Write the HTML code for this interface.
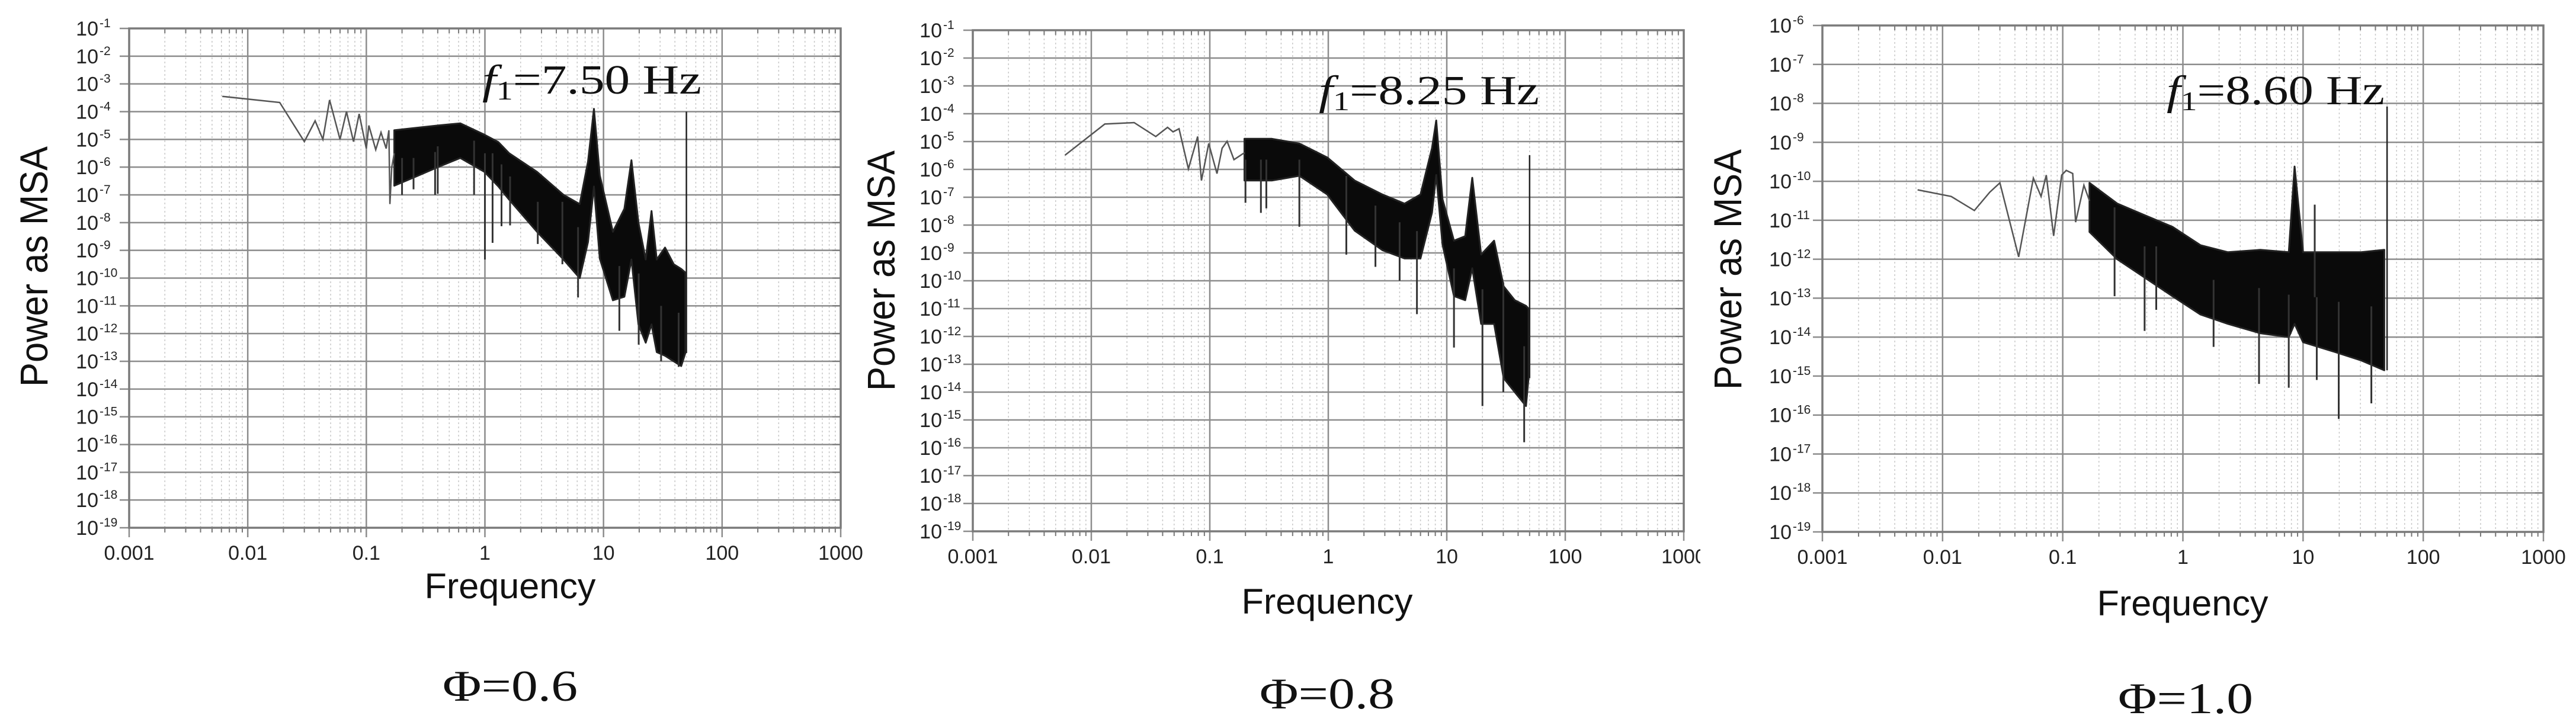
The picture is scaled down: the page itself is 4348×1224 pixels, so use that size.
<!DOCTYPE html>
<html><head><meta charset="utf-8"><style>
html,body{margin:0;padding:0;background:#fff;}
svg{display:block;}
</style></head><body>
<svg id="fig" width="4348" height="1224" viewBox="0 0 4348 1224" xmlns="http://www.w3.org/2000/svg">
<defs><clipPath id="clip2"><rect x="1420" y="0" width="1450" height="1224"/></clipPath></defs>
</svg>
<script>
// ---- Panel data (frequency in Hz, power as log10 exponent) ----
const xTickLabels = ["0.001","0.01","0.1","1","10","100","1000"];
// Panel 1 (Phi=0.6)
const p1LineF = [0.0061,0.0186,0.03,0.037,0.043,0.049,0.06,0.068,0.078,0.087,0.1,0.105,0.12,0.133,0.147,0.155,0.158,0.164,0.172];
const p1LineP = [-3.45,-3.67,-5.08,-4.33,-5.0,-3.58,-5.0,-4.0,-5.08,-4.08,-5.33,-4.5,-5.37,-4.75,-5.33,-4.67,-7.33,-6.0,-5.5];
const p1BandF = [0.172,0.265,0.4,0.62,0.99,1.3,1.6,2.75,4.6,6.3,7.4,8.3,9.3,12,15,17.2,19.7,22.7,25.4,28.1,33,39.1,45.2,49];
const p1BandHi = [-4.67,-4.58,-4.5,-4.42,-4.83,-5.1,-5.5,-6.17,-7.0,-7.33,-5.8,-3.9,-6.3,-8.33,-7.5,-5.75,-8.0,-9.33,-7.58,-9.33,-8.9,-9.5,-9.67,-9.8];
const p1BandLo = [-6.67,-6.33,-6.0,-5.67,-6.17,-6.7,-7.17,-8.33,-9.33,-10.0,-8.7,-6.7,-9.3,-10.8,-10.67,-9.33,-11.67,-12.33,-11.67,-12.67,-12.8,-13.0,-13.17,-12.7];
const p1DipF = [0.2,0.25,0.38,0.40,0.81,1.0,1.16,1.38,1.63,2.79,4.5,6.1,13.6,19.8,30.6,43];
const p1DipP = [-7.0,-6.8,-7.0,-6.96,-7.0,-9.33,-8.73,-8.13,-8.1,-8.77,-9.5,-10.7,-11.9,-12.4,-13.0,-13.2];
const p1SpikeF = [50];
const p1SpikeP = [-4.0];
// Panel 2 (Phi=0.8)
const p2LineF = [0.006,0.013,0.023,0.035,0.044,0.049,0.055,0.066,0.079,0.085,0.098,0.115,0.127,0.14,0.16,0.196];
const p2LineP = [-5.49,-4.37,-4.32,-4.82,-4.49,-4.65,-4.54,-5.98,-4.82,-6.4,-5.07,-6.15,-5.24,-4.99,-5.65,-5.4];
const p2BandF = [0.196,0.334,0.57,0.98,1.67,2.86,4.4,6.0,7.5,8.15,9.2,11.5,14.3,16.4,19.5,25.1,30.2,37.5,46.6,49];
const p2BandHi = [-4.9,-4.9,-5.07,-5.57,-6.4,-6.9,-7.23,-6.9,-5.24,-4.24,-7.07,-8.56,-8.4,-6.3,-9.06,-8.56,-10.2,-10.7,-10.9,-11.0];
const p2BandLo = [-6.4,-6.4,-6.23,-6.9,-8.2,-8.9,-9.2,-9.2,-7.56,-6.2,-8.7,-10.55,-10.7,-9.55,-11.55,-11.55,-13.5,-14.0,-14.5,-13.5];
const p2DipF = [0.2,0.27,0.3,0.57,1.42,2.5,4.0,5.6,11.5,20,30,45];
const p2DipP = [-7.2,-7.56,-7.4,-8.06,-9.06,-9.5,-10.0,-11.2,-12.4,-14.5,-14.0,-15.8];
const p2SpikeF = [50];
const p2SpikeP = [-5.49];
// Panel 3 (Phi=1.0)
const p3LineF = [0.0062,0.0118,0.0184,0.0247,0.03,0.043,0.057,0.066,0.073,0.084,0.098,0.107,0.121,0.128,0.15,0.167];
const p3LineP = [-10.22,-10.39,-10.75,-10.28,-10.04,-11.94,-9.92,-10.39,-9.84,-11.4,-9.84,-9.72,-9.8,-11.05,-10.1,-10.5];
const p3BandF = [0.167,0.284,0.48,0.82,1.4,2.37,4.4,7.6,8.5,10.0,17.9,30.5,47.4];
const p3BandHi = [-10.04,-10.57,-10.87,-11.17,-11.64,-11.82,-11.76,-11.82,-9.62,-11.82,-11.82,-11.82,-11.76];
const p3BandLo = [-11.3,-12.0,-12.47,-12.95,-13.42,-13.66,-13.9,-14.0,-13.66,-14.13,-14.37,-14.6,-14.85];
const p3DipF = [0.27,0.48,0.6,1.8,4.3,7.6,12.5,13,19.8,37];
const p3DipP = [-12.95,-13.84,-13.3,-14.25,-15.2,-15.3,-10.6,-15.1,-16.1,-15.7];
const p3SpikeF = [50];
const p3SpikeP = [-8.08];

const NS = "http://www.w3.org/2000/svg";
const svg = document.getElementById('fig');
function mk(tag, attrs, parent){ const e=document.createElementNS(NS,tag); for(const k in attrs) e.setAttribute(k,attrs[k]); (parent||svg).appendChild(e); return e; }

function panel(cfg){
  const g = mk('g', {});
  
  
  if(cfg.clip) g.setAttribute('clip-path', cfg.clip);
  const {x0,x1,y0,y1,yTop,yBot} = cfg;
  const xs = f => x0 + (Math.log10(f)+3)/6*(x1-x0);
  const ys = p => y0 + (yTop-p)/(yTop-yBot)*(y1-y0);
  const minor = mk('g', {stroke:'#c8c8c8','stroke-width':1.5,'stroke-dasharray':'3,4'}, g);
  
  
  for(let d=-3; d<3; d++) for(let m=2;m<=9;m++){ const x=xs(m*Math.pow(10,d)); mk('line',{x1:x,x2:x,y1:y0,y2:y1},minor); }
  const major = mk('g', {stroke:'#8c8c8c','stroke-width':2.5}, g);
  
  
  for(let d=-3; d<=3; d++){ const x=xs(Math.pow(10,d)); mk('line',{x1:x,x2:x,y1:y0,y2:y1+16},major); }
  for(let p=yTop; p>=yBot; p--){ const y=ys(p); mk('line',{x1:x0-16,x2:x1,y1:y,y2:y},major); }
  const tk = mk('g', {stroke:'#777','stroke-width':2}, g);
  
  
  for(let d=-3; d<3; d++) for(let m=2;m<=9;m++){ const x=xs(m*Math.pow(10,d)); mk('line',{x1:x,x2:x,y1:y1,y2:y1+8},tk); mk('line',{x1:x,x2:x,y1:y0,y2:y0+8},tk); }
  for(let p=yTop; p>=yBot; p--){ const y=ys(p); mk('line',{x1:x1-14,x2:x1,y1:y,y2:y},tk); }
  const fr = mk('rect',{x:x0,y:y0,width:x1-x0,height:y1-y0,fill:'none',stroke:'#7a7a7a','stroke-width':3.5}, g);
  
  
  const yl = mk('g', {'font-family':'Liberation Sans, sans-serif',fill:'#222'}, g);
  
  
  for(let p=yTop; p>=yBot; p--){
    const y=ys(p);
    const t=mk('text',{x:x0-52,y:y+12,'text-anchor':'end','font-size':34},yl);
    
    
    t.textContent='10';
    const s=mk('text',{x:x0-50,y:y-2,'text-anchor':'start','font-size':21},yl);
    
    
    s.textContent='-'+(-p);
  }
  const xl = mk('g', {'font-family':'Liberation Sans, sans-serif',fill:'#222','font-size':34,'text-anchor':'middle'}, g);
  
  
  xTickLabels.forEach((lab,i)=>{ const t=mk('text',{x:xs(Math.pow(10,i-3)),y:y1+54},xl);
    
    
    t.textContent=lab; });
  let pts=[];
  cfg.bandF.forEach((f,i)=>pts.push(xs(f).toFixed(1)+','+ys(cfg.bandHi[i]).toFixed(1)));
  for(let i=cfg.bandF.length-1;i>=0;i--) pts.push(xs(cfg.bandF[i]).toFixed(1)+','+ys(cfg.bandLo[i]).toFixed(1));
  const band=mk('polygon',{points:pts.join(' '),fill:'#0a0a0a',stroke:'#222','stroke-width':3,'stroke-linejoin':'round'},g);
  
  
  const lp = cfg.lineF.map((f,i)=>xs(f).toFixed(1)+','+ys(cfg.lineP[i]).toFixed(1)).join(' ');
  const line=mk('polyline',{points:lp,fill:'none',stroke:'#555','stroke-width':2.5},g);
  
  
  cfg.dipF.forEach((f,i)=>{
    let hi=cfg.bandLo[0];
    for(let k=0;k<cfg.bandF.length-1;k++){ if(f>=cfg.bandF[k]&&f<=cfg.bandF[k+1]){hi=(cfg.bandHi[k]+cfg.bandLo[k])/2;} }
    const d=mk('line',{x1:xs(f),x2:xs(f),y1:ys(hi),y2:ys(cfg.dipP[i]),stroke:'#333','stroke-width':3},g);
    
    
  });
  cfg.spikeF.forEach((f,i)=>{
    const last=cfg.bandF.length-1;
    const s=mk('line',{x1:xs(f),x2:xs(f),y1:ys(cfg.bandLo[last]),y2:ys(cfg.spikeP[i]),stroke:'#222','stroke-width':2.5},g);
    
    
  });
  const a=mk('text',{x:cfg.fx,y:cfg.fy,'font-family':'Liberation Serif, serif','font-size':70,fill:'#111',textLength:cfg.fw,lengthAdjust:'spacingAndGlyphs'},svg);
  
  
  const t1=mk('tspan',{'font-style':'italic'},a); t1.textContent='f';
  const t2=mk('tspan',{'font-size':46,dy:10},a); t2.textContent='1';
  const t3=mk('tspan',{dy:-10},a); t3.textContent='='+cfg.fText;
  const xt=mk('text',{x:cfg.xtx,y:cfg.xty,'text-anchor':'middle','font-family':'Liberation Sans, sans-serif','font-size':60,fill:'#111',textLength:289,lengthAdjust:'spacingAndGlyphs'},svg);
  
  
  xt.textContent='Frequency';
  const yt=mk('text',{x:0,y:0,'text-anchor':'middle','font-family':'Liberation Sans, sans-serif','font-size':66,fill:'#111',textLength:406,lengthAdjust:'spacingAndGlyphs',transform:`translate(${cfg.ytx},${cfg.yty}) rotate(-90)`},svg);
  
  
  yt.textContent='Power as MSA';
  const c=mk('text',{x:cfg.cx,y:cfg.cy,'text-anchor':'middle','font-family':'Liberation Serif, serif','font-size':74,fill:'#111',textLength:228,lengthAdjust:'spacingAndGlyphs'},svg);
  
  
  c.textContent=cfg.caption;
}

panel({name:'panel-phi-0-6',x0:218,x1:1419,y0:48,y1:891,yTop:-1,yBot:-19,
  lineF:p1LineF,lineP:p1LineP,bandF:p1BandF,bandHi:p1BandHi,bandLo:p1BandLo,dipF:p1DipF,dipP:p1DipP,spikeF:p1SpikeF,spikeP:p1SpikeP,
  fx:814,fy:158,fw:370,fText:'7.50 Hz',xtx:861,xty:1010,ytx:80,yty:450,cx:861,cy:1183,caption:'Φ=0.6'});
panel({name:'panel-phi-0-8',x0:1642,x1:2842,y0:51,y1:897,yTop:-1,yBot:-19,clip:'url(#clip2)',
  lineF:p2LineF,lineP:p2LineP,bandF:p2BandF,bandHi:p2BandHi,bandLo:p2BandLo,dipF:p2DipF,dipP:p2DipP,spikeF:p2SpikeF,spikeP:p2SpikeP,
  fx:2226,fy:176,fw:372,fText:'8.25 Hz',xtx:2240,xty:1036,ytx:1510,yty:457,cx:2240,cy:1196,caption:'Φ=0.8'});
panel({name:'panel-phi-1-0',x0:3076,x1:4293,y0:43,y1:898,yTop:-6,yBot:-19,
  lineF:p3LineF,lineP:p3LineP,bandF:p3BandF,bandHi:p3BandHi,bandLo:p3BandLo,dipF:p3DipF,dipP:p3DipP,spikeF:p3SpikeF,spikeP:p3SpikeP,
  fx:3657,fy:176,fw:368,fText:'8.60 Hz',xtx:3684,xty:1039,ytx:2939,yty:455,cx:3689,cy:1204,caption:'Φ=1.0'});
</script>
</body></html>
